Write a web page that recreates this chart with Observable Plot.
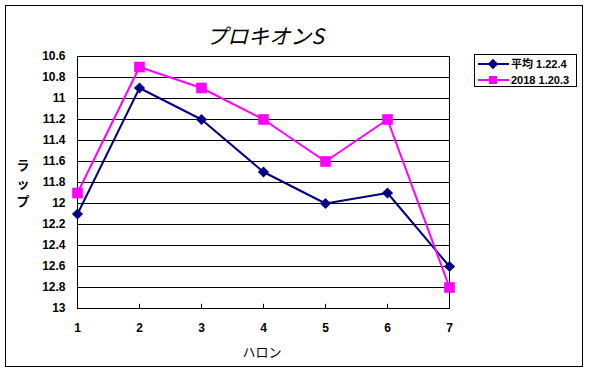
<!DOCTYPE html>
<html><head><meta charset="utf-8">
<script src="https://cdn.jsdelivr.net/npm/d3@7"></script>
<script src="https://cdn.jsdelivr.net/npm/@observablehq/plot@0.6"></script>
<style>body{margin:0;background:#fff}</style>
</head><body><div id="chart"></div>
<script>
const furlongs = [1,2,3,4,5,6,7];
const avgLaps = [12.1,10.9,11.2,11.7,12.0,11.9,12.6];
const laps2018 = [11.9,10.7,10.9,11.2,11.6,11.2,12.8];
const yTicks = [10.6,10.8,11,11.2,11.4,11.6,11.8,12,12.2,12.4,12.6,12.8,13];
const seriesNames = ["平均 1.22.4","2018 1.20.3"];
const seriesColors = ["#000080","#ff00ff"];
const titleText = "プロキオンS";
const xTitle = "ハロン";
const yTitle = "ラップ";

const avgData = furlongs.map((f,i)=>({f, v: avgLaps[i]}));
const d2018 = furlongs.map((f,i)=>({f, v: laps2018[i]}));

const W=589,H=382;
const font = "'Liberation Sans', Arial, 'Noto Sans CJK JP', sans-serif";
const plot = Plot.plot({
  width:W, height:H, marginLeft:77, marginRight:140, marginTop:56, marginBottom:74,
  style:{fontFamily:font, fontSize:"12px", background:"#fff", overflow:"visible"},
  x:{domain:[1,7]},
  y:{domain:[10.6,13], reverse:true},
  marks:[
    Plot.ruleY(yTicks, {stroke:"#000", strokeWidth:1}),
    Plot.ruleX(furlongs.slice(1,-1), {y1:13, y2:12.96, stroke:"#000"}),
    Plot.frame({stroke:"#000"}),
    Plot.axisX({ticks:furlongs, tickFormat:d=>String(d), tickSize:0, tickPadding:15, label:null, fontWeight:"bold", fontSize:12}),
    Plot.axisY({ticks:yTicks, tickFormat:d=>String(d), tickSize:0, tickPadding:12, label:null, fontWeight:"bold", fontSize:12}),
    Plot.line(avgData, {x:"f", y:"v", stroke:seriesColors[0], strokeWidth:2}),
    Plot.line(d2018, {x:"f", y:"v", stroke:seriesColors[1], strokeWidth:2}),
    Plot.dot(avgData, {x:"f", y:"v", symbol:"diamond2", r:5, fill:seriesColors[0], stroke:"none"}),
    Plot.dot(d2018, {x:"f", y:"v", symbol:"square", r:6, fill:seriesColors[1], stroke:"none"})
  ]
});
document.getElementById("chart").appendChild(plot);
const svg = d3.select(plot);
// outer border
svg.append("rect").attr("x",5.5).attr("y",5.5).attr("width",577).attr("height",361)
  .attr("fill","none").attr("stroke","#000").attr("stroke-width",1);
// title
svg.append("text").attr("x",265).attr("y",44).attr("text-anchor","middle")
  .attr("font-family","'Noto Sans CJK JP', sans-serif").attr("font-size",21)
  .attr("style","font-style:italic").text(titleText);
// y title stacked vertically
const yt = svg.append("text").attr("font-family","'Noto Sans CJK JP', sans-serif")
  .attr("font-size",13).attr("font-weight","bold").attr("text-anchor","middle");
[...yTitle].forEach((ch,i)=>{
  yt.append("tspan").attr("x",23).attr("y",170+i*18).text(ch);
});
// x title
svg.append("text").attr("x",262).attr("y",357).attr("text-anchor","middle")
  .attr("font-family","'Noto Sans CJK JP', sans-serif").attr("font-size",13)
  .text(xTitle);
// legend
const lg = svg.append("g");
lg.append("rect").attr("x",474.5).attr("y",54.5).attr("width",102).attr("height",32)
  .attr("fill","#fff").attr("stroke","#000");
const syms = [d3.symbolDiamond2, d3.symbolSquare];
const sizes = [70, 64];
seriesNames.forEach((name,i)=>{
  const y = 64 + i*16;
  lg.append("line").attr("x1",478).attr("x2",509).attr("y1",y).attr("y2",y)
    .attr("stroke",seriesColors[i]).attr("stroke-width",2);
  lg.append("path").attr("d",d3.symbol(syms[i],sizes[i])()).attr("transform",`translate(493,${y})`)
    .attr("fill",seriesColors[i]);
  lg.append("text").attr("x",511).attr("y",y+4).attr("text-anchor","start")
    .attr("font-family",font).attr("font-size",11).attr("font-weight","bold").text(name);
});
</script>
</body></html>
